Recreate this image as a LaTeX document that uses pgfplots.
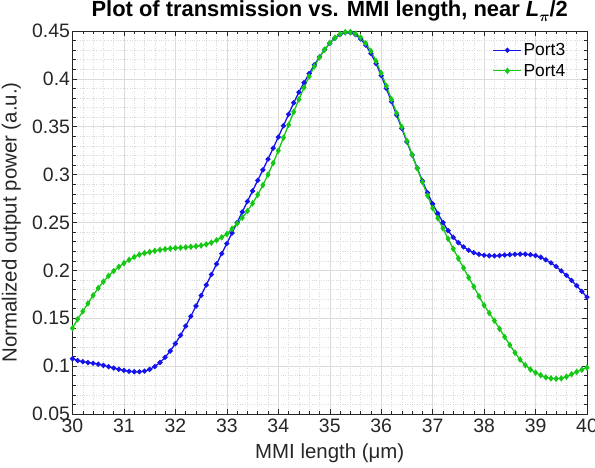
\documentclass[border=0pt]{standalone}
\usepackage{pgfplots}
\pgfplotsset{compat=1.18}
\usepackage{amsmath}
\usepackage{fontspec}
\setmainfont{Liberation Sans}
\definecolor{pblue}{RGB}{20,20,235}
\definecolor{pgreen}{RGB}{20,200,20}
\definecolor{axgray}{RGB}{38,38,38}
\begin{document}
\begin{tikzpicture}
\begin{axis}[
  scale only axis,
  width=514.5bp, height=383bp,
  xmin=30, xmax=40, ymin=0.05, ymax=0.45,
  xtick={30,31,...,40},
  ytick={0.05,0.1,0.15,0.2,0.25,0.3,0.35,0.4,0.45},
  yticklabels={0.05,0.1,0.15,0.2,0.25,0.3,0.35,0.4,0.45},
  minor x tick num=4,
  minor y tick num=4,
  tick align=inside,
  major tick length=5bp,
  minor tick length=3.5bp,
  grid=both,
  major grid style={gray!28, line width=0.5pt},
  minor grid style={gray!30, dotted, line width=0.5pt},
  axis line style={axgray, line width=0.6pt},
  every tick/.style={axgray, line width=0.5pt},
  tick label style={font=\fontsize{19.5}{21}\selectfont, text=axgray},
  /pgf/number format/assume math mode=true,
  xticklabel style={yshift=-1bp},
  yticklabel style={xshift=1bp},
  xlabel={\fontsize{20.5}{23}\selectfont MMI length (μm)},
  ylabel={\fontsize{20.5}{23}\selectfont Normalized output power (a.u.)},
  label style={text=axgray},
  xlabel style={at={(axis description cs:0.5,-0.0783)}, anchor=north, inner sep=0pt},
  ylabel style={at={(axis description cs:-0.1,0.5)}, anchor=south, inner sep=0pt},
  title={\fontsize{22}{24}\selectfont\bfseries Plot of transmission vs. MMI length, near \textit{L}\raisebox{-0.45ex}{$\boldsymbol{\scriptstyle\pi}$}/2},
  title style={at={(axis description cs:0.5,1)}, anchor=south, inner sep=3bp, yshift=0bp},
  legend style={at={(axis description cs:0.961,0.972)}, anchor=north east, draw=none, fill=none,
    text=black, row sep=4bp, inner sep=0pt,
    nodes={inner sep=1.5bp}},
  legend cell align=left,
  legend image code/.code={\draw[line width=1.3pt, mark repeat=2,mark phase=2] plot coordinates {(0bp,0bp)(14bp,0bp)(28bp,0bp)};},
]
\addplot[pblue, line width=1.3pt, mark=*, mark size=1.9pt] coordinates {
(30.0,0.1077)(30.1,0.1058)(30.2,0.1046)(30.3,0.1037)(30.4,0.1030)(30.5,0.1020)(30.6,0.1008)(30.7,0.0994)(30.8,0.0980)(30.9,0.0967)
(31.0,0.0955)(31.1,0.0946)(31.2,0.0941)(31.3,0.0941)(31.4,0.0948)(31.5,0.0966)(31.6,0.0995)(31.7,0.1038)(31.8,0.1092)(31.9,0.1158)
(32.0,0.1235)(32.1,0.1322)(32.2,0.1418)(32.3,0.1520)(32.4,0.1628)(32.5,0.1738)(32.6,0.1848)(32.7,0.1957)(32.8,0.2067)(32.9,0.2175)
(33.0,0.2280)(33.1,0.2390)(33.2,0.2500)(33.3,0.2610)(33.4,0.2720)(33.5,0.2830)(33.6,0.2940)(33.7,0.3050)(33.8,0.3162)(33.9,0.3276)
(34.0,0.3392)(34.1,0.3510)(34.2,0.3630)(34.3,0.3750)(34.4,0.3860)(34.5,0.3960)(34.6,0.4055)(34.7,0.4145)(34.8,0.4228)(34.9,0.4305)
(35.0,0.4372)(35.1,0.4425)(35.2,0.4463)(35.3,0.4483)(35.4,0.4483)(35.5,0.4462)(35.6,0.4418)(35.7,0.4352)(35.8,0.4265)(35.9,0.4160)
(36.0,0.4035)(36.1,0.3900)(36.2,0.3762)(36.3,0.3622)(36.4,0.3482)(36.5,0.3342)(36.6,0.3205)(36.7,0.3068)(36.8,0.2935)(36.9,0.2810)
(37.0,0.2695)(37.1,0.2595)(37.2,0.2500)(37.3,0.2415)(37.4,0.2345)(37.5,0.2290)(37.6,0.2245)(37.7,0.2210)(37.8,0.2185)(37.9,0.2168)
(38.0,0.2158)(38.1,0.2153)(38.2,0.2152)(38.3,0.2155)(38.4,0.2160)(38.5,0.2164)(38.6,0.2168)(38.7,0.2170)(38.8,0.2169)(38.9,0.2164)
(39.0,0.2155)(39.1,0.2137)(39.2,0.2110)(39.3,0.2078)(39.4,0.2040)(39.5,0.1995)(39.6,0.1948)(39.7,0.1895)(39.8,0.1840)(39.9,0.1780)
(40.0,0.1720)
};
\addlegendentry{\fontsize{17.5}{19}\selectfont Port3}
\addplot[pgreen, line width=1.3pt, mark=diamond*, mark size=2.3pt] coordinates {
(30.0,0.1396)(30.1,0.1490)(30.2,0.1572)(30.3,0.1655)(30.4,0.1738)(30.5,0.1815)(30.6,0.1882)(30.7,0.1942)(30.8,0.1993)(30.9,0.2037)
(31.0,0.2075)(31.1,0.2110)(31.2,0.2140)(31.3,0.2164)(31.4,0.2180)(31.5,0.2192)(31.6,0.2204)(31.7,0.2214)(31.8,0.2222)(31.9,0.2228)
(32.0,0.2233)(32.1,0.2237)(32.2,0.2241)(32.3,0.2246)(32.4,0.2252)(32.5,0.2260)(32.6,0.2272)(32.7,0.2290)(32.8,0.2315)(32.9,0.2345)
(33.0,0.2380)(33.1,0.2435)(33.2,0.2490)(33.3,0.2550)(33.4,0.2620)(33.5,0.2700)(33.6,0.2790)(33.7,0.2890)(33.8,0.3000)(33.9,0.3120)
(34.0,0.3250)(34.1,0.3385)(34.2,0.3520)(34.3,0.3655)(34.4,0.3785)(34.5,0.3910)(34.6,0.4025)(34.7,0.4130)(34.8,0.4225)(34.9,0.4305)
(35.0,0.4375)(35.1,0.4430)(35.2,0.4468)(35.3,0.4488)(35.4,0.4490)(35.5,0.4472)(35.6,0.4432)(35.7,0.4372)(35.8,0.4290)(35.9,0.4185)
(36.0,0.4060)(36.1,0.3925)(36.2,0.3785)(36.3,0.3642)(36.4,0.3498)(36.5,0.3352)(36.6,0.3208)(36.7,0.3065)(36.8,0.2922)(36.9,0.2782)
(37.0,0.2650)(37.1,0.2545)(37.2,0.2440)(37.3,0.2330)(37.4,0.2225)(37.5,0.2125)(37.6,0.2025)(37.7,0.1925)(37.8,0.1830)(37.9,0.1730)
(38.0,0.1635)(38.1,0.1555)(38.2,0.1475)(38.3,0.1390)(38.4,0.1305)(38.5,0.1220)(38.6,0.1140)(38.7,0.1068)(38.8,0.1010)(38.9,0.0965)
(39.0,0.0932)(39.1,0.0905)(39.2,0.0883)(39.3,0.0872)(39.4,0.0868)(39.5,0.0872)(39.6,0.0890)(39.7,0.0915)(39.8,0.0940)(39.9,0.0962)
(40.0,0.0985)
};
\addlegendentry{\fontsize{17.5}{19}\selectfont Port4}
\end{axis}
\pgfresetboundingbox
\path[use as bounding box] ([shift={(-72.5bp,-54bp)}]current axis.south west) rectangle ([shift={(8bp,31bp)}]current axis.north east);
\end{tikzpicture}
\end{document}
